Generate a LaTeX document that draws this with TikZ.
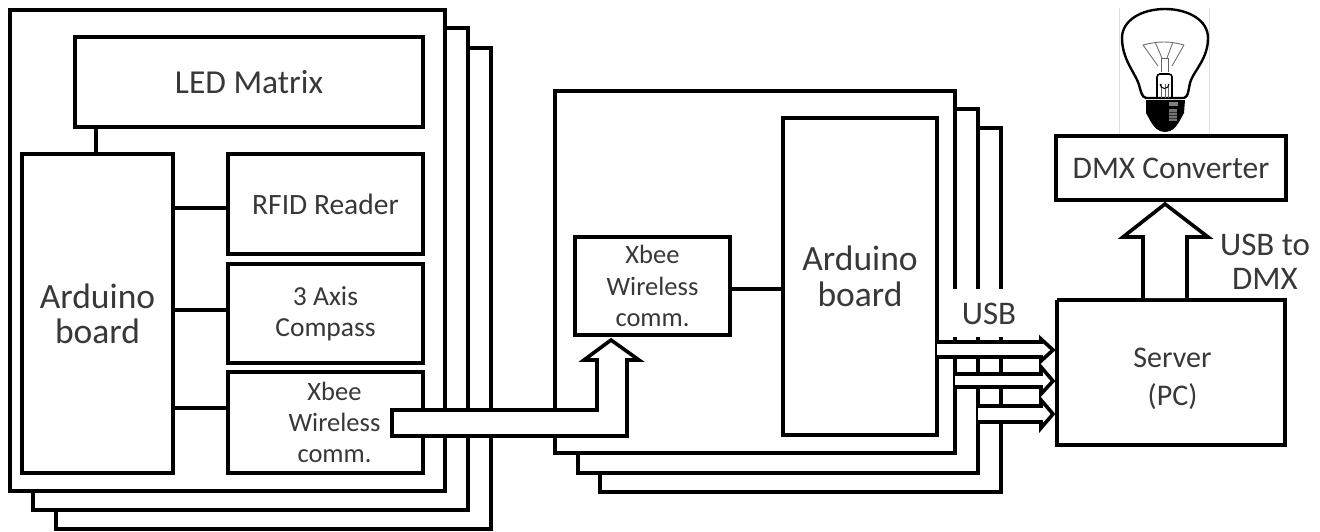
\documentclass[tikz,border=0pt]{standalone}
\usepackage{fontspec}
\setmainfont{Carlito}
\tikzset{
  x=1pt,y=-1pt,
  panel/.style={draw=black,line width=3.6pt,fill=white,line join=miter},
  blockbox/.style={draw=black,line width=3.6pt,fill=white,inner sep=0pt,outer sep=0pt,align=center,text=black!78,anchor=north west},
  wire/.style={draw=black,line width=4.4pt},
  bigarrow/.style={draw=black,line width=3.6pt,fill=white,line join=miter},
  lbl/.style={inner sep=0pt,align=center,text=black!78},
}
% name, x0, y0, x1, y1, font size, line spacing
\newcommand{\blk}[7]{\node[blockbox,minimum width=#4pt-#2pt,minimum height=#5pt-#3pt,font=\fontsize{#6}{#7}\selectfont] (#1) at (#2,#3)}
\begin{document}
\begin{tikzpicture}
\useasboundingbox (0,0) rectangle (1320,531);
\fill[white] (0,0) rectangle (1320,531);
% left stack
\draw[panel] (56,48) rectangle (491,529);
\draw[panel] (33,28) rectangle (468,510);
\draw[panel] (10,10) rectangle (445,491);
% middle stack
\draw[panel] (600,128) rectangle (1001,492);
\draw[panel] (578,109) rectangle (978,473);
\draw[panel] (555,91) rectangle (955,453);
% left blocks
\blk{led}{75}{37}{423}{127}{33.5}{36}{LED Matrix};
\blk{ardl}{22}{154}{173}{473}{35.5}{35}{Arduino\\board};
\blk{rfid}{228}{154}{423}{254}{29.5}{32}{RFID Reader};
\blk{comp}{228}{264}{423}{363}{27.5}{31}{3 Axis\\Compass};
\blk{xbl}{228}{372}{423}{473}{26.5}{31}{\hspace*{18pt}Xbee\\\hspace*{18pt}Wireless\\\hspace*{18pt}comm.};
% middle blocks
\blk{xbm}{575}{237}{730}{335}{26.5}{31.5}{Xbee\\Wireless\\comm.};
\blk{ardm}{783}{118}{937}{435}{35.5}{36}{Arduino\\board};
% server side
\blk{srv}{1057}{300}{1285}{445}{30}{38}{\rule{0pt}{33pt}\hspace*{3pt}Server\\\hspace*{3pt}(PC)};
\blk{dmx}{1056}{136}{1286}{200}{31.5}{33}{DMX Converter};
% connectors
\coordinate (ledw) at (96,127);
\coordinate (ardlw) at (96,154);
\coordinate (a1) at (173,208);
\coordinate (a2) at (173,310);
\coordinate (a3) at (173,408);
\coordinate (r1) at (228,208);
\coordinate (r2) at (228,310);
\coordinate (r3) at (228,408);
\coordinate (m1) at (730,289);
\coordinate (m2) at (783,289);
\draw[wire] (ledw) -- (ardlw);
\draw[wire] (a1) -- (r1);
\draw[wire] (a2) -- (r2);
\draw[wire] (a3) -- (r3);
\draw[wire] (m1) -- (m2);
% big arrow to mid xbee
\draw[bigarrow] (392,410) -- (597,410) -- (597,360) -- (584,360) -- (611,340) -- (639,360) -- (627,360) -- (627,436) -- (392,436) -- cycle;
% USB region
\node[fill=white,inner sep=0pt,anchor=north west,minimum width=118pt,minimum height=48pt] (usbbg) at (939,289) {};
\node[lbl,font=\fontsize{33}{33}\selectfont] (usb) at (989,314) {USB};
% USB arrows
\draw[bigarrow] (937,342) -- (1041,342) -- (1041,339) -- (1053,350) -- (1041,361) -- (1041,357) -- (937,357);
\draw[bigarrow] (955,374) -- (1041,374) -- (1041,367) -- (1053,381) -- (1041,394) -- (1041,387) -- (955,387);
\draw[bigarrow] (978,406) -- (1041,406) -- (1041,400) -- (1053,414) -- (1041,428) -- (1041,422) -- (978,422);
\draw[line width=3.6pt] (srv.north west) -- (srv.south west);
% arrow up
\draw[bigarrow] (1143,298) -- (1143,237) -- (1123,237) -- (1165,204) -- (1208,237) -- (1187,237) -- (1187,298);
\node[lbl,font=\fontsize{33}{34}\selectfont] (usbdmx) at (1265,262) {USB to\\DMX};
% bulb
\fill[white] (1119,8) rectangle (1209,134);
\draw[black!12,line width=.6pt] (1119,8) -- (1119,134) (1209,8) -- (1209,134);
\draw[black,line width=2.4pt] (1146,98) .. controls (1141,97) and (1141,90) .. (1138,82) .. controls (1134,72) and (1122,58) .. (1122,38) .. controls (1122,20) and (1142,9) .. (1165,9) .. controls (1188,9) and (1208,20) .. (1208,38) .. controls (1208,58) and (1195,70) .. (1191,80) .. controls (1188,88) and (1189,97) .. (1184,98) -- cycle;
\fill[black] (1146,100) -- (1185,100) -- (1184,113) -- (1179,122) .. controls (1176,127) and (1172,132) .. (1165,132) .. controls (1158,132) and (1154,127) .. (1151,122) -- (1146,113) -- cycle;
\fill[black!50] (1169,102) rectangle (1178,106);
\fill[black!55] (1169,109) rectangle (1177,121);
\draw[black!80,line width=.8pt] (1169,112) -- (1177,112) (1169,115) -- (1177,115) (1169,118) -- (1177,118);
\draw[black!55,line width=.9pt] (1143,45) .. controls (1158,41) and (1170,41) .. (1184,45) (1143,45) -- (1158,66) (1184,45) -- (1172,66) (1155,42) -- (1162,58) (1173,42) -- (1167,58);
\draw[black!60,line width=1pt] (1161,58) -- (1161,72) (1168,58) -- (1168,72) (1161,58) -- (1168,58);
\draw[black,line width=1.6pt,rounded corners=3pt] (1157,98) -- (1157,74) -- (1172,74) -- (1172,98);
\draw[black!60,line width=1pt] (1161,98) -- (1161,84) (1165,98) -- (1165,84) (1168,98) -- (1168,84);
\draw[black,line width=1pt] (1160,84) arc (180:0:4.5);
\end{tikzpicture}
\end{document}
